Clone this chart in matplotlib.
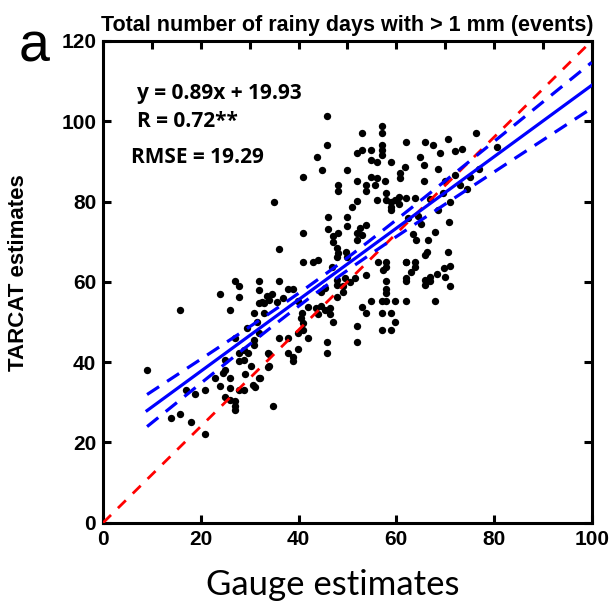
import numpy as np
import matplotlib
matplotlib.use("Agg")
import matplotlib.pyplot as plt
from matplotlib.ticker import MultipleLocator

# gauge (x) and TARCAT (y) counts of rainy days
gauge_est = [8.9, 15.7, 13.9, 15.7, 17.9, 20.9, 17.0, 18.9, 20.9, 22.9, 23.9, 24.9, 24.9, 24.6,
             26.0, 26.0, 24.9, 26.0, 26.9, 26.9, 26.9, 27.9, 28.8, 27.9, 28.8, 27.9, 28.8, 29.7,
             30.7, 31.1, 32.0, 26.9, 30.9, 30.9, 26.0, 23.9, 27.0, 27.9, 27.9, 32.0, 32.0, 32.0,
             33.0, 30.9, 33.0, 32.0, 33.7, 33.7, 31.5, 29.5, 30.2, 29.0,
             34.8, 32.1, 33.9, 33.9, 36.0, 37.9, 37.9, 38.9, 38.9, 39.9, 39.9, 41.0, 42.0, 41.0,
             40.6, 45.9, 45.9, 47.0, 51.9, 51.9, 52.9, 53.9, 54.9, 57.0, 57.0, 58.9, 58.9, 59.7,
             57.0, 57.9, 57.9, 57.9, 59.8, 61.9, 57.9, 61.9, 61.9, 61.9, 63.8, 63.8, 65.8, 66.9,
             65.8, 66.9, 67.9, 69.9, 71.0, 71.0, 56.3, 58.0, 57.3, 53.9, 49.5, 50.5, 49.0, 49.0,
             51.5, 47.8, 47.8, 47.8, 46.8, 45.5, 44.5, 39.9, 40.8, 42.0, 38.9, 37.9, 36.9, 33.5,
             32.5, 34.0, 35.5, 34.5, 35.9, 43.5, 44.5, 45.5, 46.5, 46.5, 44.0, 41.0, 43.0, 43.9,
             45.8, 41.0, 35.0, 36.0, 41.0, 43.8, 44.8, 45.9, 50.0, 48.0, 48.0, 46.0, 46.0, 47.0,
             47.0, 48.0, 50.0, 50.0, 51.9, 50.9, 51.9, 52.9, 51.9, 52.9, 54.9, 54.9, 57.0, 57.0,
             57.0, 57.0, 57.0, 56.0, 54.9, 56.0, 55.6, 53.9, 53.9, 56.0, 59.0, 57.7, 57.9, 58.0,
             59.0, 59.0, 59.7, 60.7, 60.7, 61.9, 61.8, 60.5, 60.5, 59.0, 61.9, 63.8, 64.8, 65.7,
             65.8, 65.7, 66.2, 65.8, 47.8, 49.8, 49.9, 53.9, 52.6, 51.9, 52.9, 51.9, 47.8, 48.0,
             58.0, 61.9,
             67.5, 69.0, 70.5, 72.0, 73.5, 76.3, 80.6, 77.0, 75.0, 73.0, 70.0, 68.5, 69.5, 71.0,
             68.5, 67.0, 70.8, 68.0, 66.5, 70.5, 69.8, 65.0, 64.0, 63.0, 68.3, 74.5, 72.0, 64.5,
             62.5, 63.5]
tarcat_est = [38.1, 53.0, 26.1, 27.1, 25.1, 22.2, 33.1, 32.0, 33.1, 36.0, 34.1, 40.6, 38.1, 37.3,
              36.0, 33.5, 31.4, 30.6, 30.2, 29.0, 28.1, 33.1, 33.1, 40.2, 40.6, 42.2, 43.1, 42.2,
              34.4, 33.9, 36.0, 46.0, 44.3, 45.6, 53.0, 57.0, 60.1, 59.0, 56.2, 60.1, 58.0, 54.8,
              54.8, 52.2, 52.2, 47.2, 38.9, 42.2, 50.0, 48.5, 39.0, 37.0,
              29.2, 36.1, 39.1, 42.1, 46.0, 46.0, 42.2, 41.4, 40.2, 43.2, 47.2, 48.0, 46.0, 49.8,
              51.0, 45.1, 42.2, 50.1, 49.1, 45.1, 53.8, 52.2, 55.1, 52.2, 48.0, 52.2, 48.0, 50.1,
              55.1, 55.1, 57.2, 58.2, 55.1, 55.1, 60.1, 60.9, 60.1, 65.0, 65.0, 63.8, 60.5, 61.3,
              59.2, 60.1, 55.1, 61.3, 59.0, 64.0, 65.0, 63.8, 63.0, 61.7, 61.0, 60.0, 57.5, 59.0,
              61.0, 56.3, 59.2, 60.5, 63.8, 58.5, 57.5, 55.1, 52.2, 53.8, 58.2, 58.2, 55.9, 56.5,
              55.0, 55.5, 55.0, 57.0, 60.1, 53.5, 54.0, 53.0, 53.5, 52.0, 52.0, 65.0, 65.0, 65.5,
              101.3, 86.1, 80.0, 68.2, 72.1, 91.0, 87.9, 94.1, 87.9, 84.1, 82.5, 76.1, 73.2, 71.3,
              70.0, 72.1, 76.1, 73.9, 80.2, 78.7, 85.0, 97.0, 92.0, 92.9, 92.9, 90.4, 98.8, 97.0,
              94.1, 92.9, 91.6, 89.9, 86.2, 85.8, 84.1, 84.1, 82.5, 80.4, 89.9, 85.0, 82.1, 80.4,
              80.0, 78.7, 80.4, 85.8, 87.0, 94.9, 88.7, 81.0, 79.5, 78.0, 80.8, 80.8, 91.2, 89.1,
              94.9, 85.0, 67.5, 66.7, 66.3, 67.5, 66.3, 74.2, 73.4, 72.1, 71.7, 70.4, 68.4, 67.1,
              64.9, 65.0,
              94.0, 92.0, 95.5, 92.5, 93.0, 97.0, 93.6, 88.0, 86.0, 84.0, 85.0, 88.0, 82.0, 80.0,
              78.0, 80.5, 75.0, 72.5, 70.5, 67.5, 63.5, 74.5, 70.5, 62.5, 62.0, 83.0, 86.5, 76.5,
              76.0, 72.0]

# regression stats printed on the panel
slope, intercept = 0.89, 19.93
r_value, rmse = 0.72, 19.29
x_fit_range = [9, 100]

arial = ['Liberation Sans', 'DejaVu Sans']

fig = plt.figure(figsize=(6.1, 6.1), dpi=100)
ax = fig.add_axes([0.169, 0.143, 0.801, 0.790])

ax.scatter(gauge_est, tarcat_est, s=28, color='black', zorder=2, linewidths=0)

# diagonal of the panel
ax.plot([0, 100], [0, 120], color='red', ls=(0, (4, 3.5)), lw=2.0, zorder=3)

# fitted line with a confidence band
xf = np.linspace(x_fit_range[0], x_fit_range[1], 200)
yf = slope * xf + intercept
half = np.sqrt(2.25 + 0.01024 * (xf - 45.6) ** 2)
ax.plot(xf, yf, color='blue', lw=2.3, zorder=4)
ax.plot(xf, yf + half, color='blue', lw=2.3, ls=(0, (4.5, 3)), zorder=4)
ax.plot(xf, yf - half, color='blue', lw=2.3, ls=(0, (4.5, 3)), zorder=4)

ax.set_xlim(0, 100)
ax.set_ylim(0, 120)
ax.xaxis.set_major_locator(MultipleLocator(20))
ax.xaxis.set_minor_locator(MultipleLocator(10))
ax.yaxis.set_major_locator(MultipleLocator(20))

for s in ax.spines.values():
    s.set_linewidth(2.2)
ax.tick_params(which='both', direction='in', length=6, width=2.2,
               top=True, right=True, pad=5)
ax.tick_params(which='minor', bottom=False)
for lab in ax.get_xticklabels() + ax.get_yticklabels():
    lab.set_family(arial)
    lab.set_fontweight('bold')
    lab.set_fontsize(15)

ax.set_title('Total number of rainy days with > 1 mm (events)', family=arial,
             fontweight='bold', fontsize=15.5, pad=7)
ax.set_xlabel('Gauge estimates', family='Lato', fontsize=25)
ax.xaxis.set_label_coords(0.47, -0.095)
ax.set_ylabel('TARCAT estimates', family=arial, fontweight='bold', fontsize=16)
ax.yaxis.set_label_coords(-0.152, 0.52)
fig.text(0.03, 0.9, 'a', family=arial, fontsize=40)

stats = ['y = %.2fx + %.2f' % (slope, intercept), 'R = %.2f**' % r_value, 'RMSE = %.2f' % rmse]
ax.text(7.0, 107.0, stats[0], family='Open Sans', fontweight='bold', fontsize=15, va='center')
ax.text(7.0, 100.0, stats[1], family='Open Sans', fontweight='bold', fontsize=15, va='center')
ax.text(5.8, 91.0, stats[2], family='Open Sans', fontweight='bold', fontsize=15, va='center')

fig.savefig('out.png', dpi=100)
